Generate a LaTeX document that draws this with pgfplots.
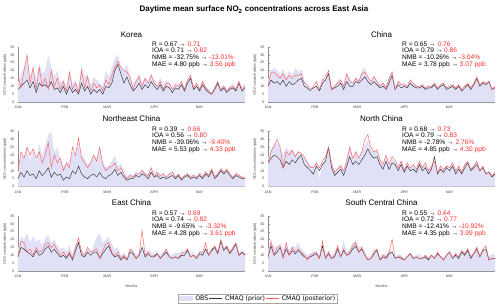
\documentclass[border=0pt]{standalone}
\usepackage{pgfplots}
\usepackage{pgfplotstable}
\pgfplotsset{compat=1.18}
\usepackage{fontspec}
\setmainfont{Liberation Sans}
\newfontfamily\dejavu{DejaVu Sans}
\definecolor{obsfill}{RGB}{224,224,247}
\definecolor{postc}{RGB}{255,95,95}
\definecolor{pric}{RGB}{50,50,50}
\definecolor{statred}{RGB}{255,45,45}
\newcommand\statfont{\fontsize{6.6}{7}\selectfont}
\newcommand\statline[4]{\node[anchor=base west, inner sep=0, font=\statfont] at (#1pt,#2pt) {#3\textcolor{statred}{#4}};}
\newcommand\ptitle[3]{\node[anchor=base, inner sep=0, font=\fontsize{8}{9}\selectfont] at (#1pt,#2pt) {#3};}

\pgfplotstableread{
d o p q
0 12 8 17
2 18 10 9
4 22 12 20
6 28 14 30
8 16 9 12
10 22 13 22
12 14 6 8
14 25 12 22
16 18 10 10
18 20 11 15
20 30 9 8
22 22 13 20
24 16 8 10
26 20 9 15
28 12 6 8
30 14 10 13
32 10 5 7
34 20 10 19
36 12 6 8
38 14 8 12
40 9 5 6
42 24 12 20
44 16 7 9
46 18 10 16
48 10 5 7
50 16 8 12
52 14 6 9
54 12 8 11
56 10 5 7
58 20 10 14
60 16 9 11
62 22 12 17
64 28 20 22
66 30 24 26
68 22 18 22
70 20 12 20
72 24 16 19
74 16 11 16
76 12 7 8
78 14 9 13
80 18 12 16
82 12 8 10
84 16 11 15
86 12 9 12
88 18 13 17
90 14 10 12
92 10 8 10
94 16 11 13
96 10 7 8
98 14 10 12
100 12 9 12
102 8 6 8
104 12 9 11
106 10 8 10
108 13 11 13
110 9 7 8
112 14 12 14
114 18 15 17
116 10 8 9
118 12 10 12
120 9 7 8
122 14 11 13
124 10 8 9
126 8 6 7
128 6 5 5
130 10 8 9
132 14 12 13
134 8 7 8
136 11 9 10
138 8 6 7
140 10 8 9
142 12 9 10
144 9 7 8
146 14 12 13
148 9 7 8
150 12 9 10
}\tabKR

\pgfplotstableread{
d o p q
0 14 10 10
2 20 14 19
4 22 12 19
6 20 13 17
8 18 11 15
10 21 14 18
12 16 10 14
14 20 13 17
16 17 11 15
18 22 12 17
20 19 14 17
22 21 15 18
24 14 10 12
26 9 9 11
28 6 7 8
30 8 9 10
32 12 10 13
34 7 7 8
36 15 12 14
38 14 14 16
40 20 18 20
42 9 8 8
44 11 9 10
46 13 10 12
48 15 12 14
50 10 8 10
52 18 13 18
54 15 10 13
56 12 10 12
58 16 13 15
60 14 12 13
62 20 14 18
64 22 16 19
66 16 13 16
68 13 11 13
70 17 13 16
72 14 11 13
74 11 9 10
76 13 10 12
78 10 8 9
80 16 12 15
82 19 17 19
84 9 8 8
86 13 11 13
88 11 9 11
90 12 10 11
92 10 9 10
94 14 12 14
96 12 10 12
98 11 9 10
100 10 9 10
102 12 10 11
104 9 8 9
106 11 9 10
108 10 9 10
110 12 11 12
112 9 8 9
114 11 10 11
116 13 11 12
118 9 8 9
120 10 9 10
122 12 10 11
124 9 8 9
126 11 10 11
128 8 7 8
130 10 9 10
132 12 11 12
134 9 8 9
136 12 11 12
138 15 15 16
140 11 10 11
142 13 12 13
144 12 11 12
146 13 13 13
148 9 8 8
150 10 9 10
}\tabCN

\pgfplotstableread{
d o p q
0 8 5 10
2 20 9 22
4 18 6 18
6 25 10 25
8 16 7 20
10 24 8 24
12 15 5 18
14 28 10 22
16 20 7 15
18 26 9 20
20 33 12 28
22 35 6 12
24 22 9 20
26 25 7 15
28 18 8 18
30 12 4 10
32 16 6 15
34 15 5 12
36 22 10 25
38 20 8 20
40 28 13 31
42 20 8 18
44 18 6 15
46 14 5 12
48 16 7 15
50 20 8 20
52 18 6 16
54 24 9 25
56 16 6 14
58 12 5 10
60 14 7 12
62 16 8 13
64 20 11 15
66 12 7 10
68 15 9 12
70 9 6 8
72 6 4 5
74 8 5 7
76 7 5 6
78 10 7 8
80 8 6 8
82 11 8 10
84 9 7 8
86 7 5 7
88 12 9 12
90 8 6 6
92 10 7 9
94 7 5 7
96 9 6 8
98 6 5 6
100 8 6 8
102 10 7 9
104 6 5 6
106 8 7 8
108 5 4 5
110 7 6 7
112 9 7 8
114 6 5 6
116 8 6 7
118 6 5 6
120 9 7 8
122 7 5 6
124 10 8 9
126 8 6 7
128 12 10 11
130 7 5 6
132 9 7 8
134 12 10 11
136 10 8 9
138 11 10 11
140 8 7 8
142 6 5 6
144 9 7 8
146 8 6 7
148 6 5 6
150 7 5 5
}\tabNE

\pgfplotstableread{
d o p q
0 18 15 15
2 24 18 22
4 26 20 26
6 28 19 30
8 24 17 25
10 20 12 12
12 25 16 22
14 22 14 20
16 24 17 23
18 20 15 19
20 23 18 22
22 20 20 21
24 18 14 19
26 16 12 15
28 14 10 12
30 12 8 12
32 16 13 15
34 5 10 12
36 14 14 16
38 18 16 19
40 26 25 25
42 14 12 15
44 10 7 9
46 12 9 11
48 14 11 13
50 10 7 10
52 18 13 16
54 26 19 25
56 18 14 18
58 23 16 22
60 18 14 18
62 22 17 22
64 26 20 30
66 30 24 33
68 24 20 25
70 22 18 22
72 24 19 23
74 18 14 17
76 14 11 14
78 20 16 20
80 13 11 14
82 18 15 19
84 16 14 17
86 12 10 12
88 17 14 16
90 11 9 10
92 15 13 15
94 12 10 12
96 14 11 14
98 11 9 11
100 16 14 16
102 12 10 12
104 14 12 15
106 10 8 10
108 13 11 13
110 16 19 16
112 9 8 9
114 13 11 13
116 11 9 11
118 14 12 13
120 12 10 12
122 15 13 15
124 10 8 10
126 13 11 13
128 9 8 9
130 14 12 14
132 16 15 16
134 11 10 11
136 13 12 13
138 15 14 16
140 11 10 10
142 13 12 13
144 9 8 8
146 10 9 9
148 7 6 7
150 9 8 9
}\tabNC

\pgfplotstableread{
d o p q
0 14 9 10
2 22 15 19
4 20 14 18
6 24 12 12
8 18 11 14
10 22 9 10
12 19 13 15
14 20 10 12
16 16 11 13
18 21 14 17
20 23 16 18
22 18 12 15
24 20 14 17
26 16 11 13
28 14 9 10
30 15 10 12
32 12 8 9
34 17 11 12
36 10 7 8
38 16 13 15
40 20 18 21
42 13 10 12
44 11 9 10
46 14 12 15
48 12 10 12
50 16 12 13
52 22 12 14
54 24 8 8
56 18 11 13
58 20 14 17
60 22 16 18
62 17 11 12
64 14 9 10
66 15 10 12
68 10 7 8
70 12 9 10
72 9 7 7
74 14 12 14
76 14 11 12
78 10 8 8
80 12 10 10
82 16 15 26
84 11 9 10
86 14 11 12
88 12 9 9
90 11 9 10
92 13 11 11
94 10 8 8
96 12 10 11
98 14 12 14
100 11 9 9
102 10 8 8
104 12 9 9
106 11 8 8
108 13 10 11
110 12 10 12
112 15 13 14
114 11 9 9
116 12 10 10
118 10 8 8
120 13 11 12
122 12 10 12
124 15 14 18
126 11 10 10
128 14 13 14
130 16 15 16
132 12 11 12
134 20 19 20
136 14 13 14
138 16 15 16
140 12 11 12
142 15 14 15
144 18 17 18
146 11 10 10
148 14 12 11
150 12 10 11
}\tabEC

\pgfplotstableread{
d o p q
0 14 9 8
2 18 16 19
4 16 10 10
6 15 12 15
8 18 15 16
10 14 9 8
12 17 14 18
14 13 10 10
16 16 13 15
18 15 11 12
20 18 13 14
22 14 11 12
24 12 9 10
26 10 8 7
28 11 9 10
30 13 10 11
32 12 11 12
34 10 8 8
36 16 16 19
38 11 8 8
40 13 11 12
42 10 8 8
44 12 9 10
46 16 14 16
48 11 9 9
50 20 13 14
52 12 10 10
54 14 11 12
56 18 14 16
58 20 16 18
60 15 12 12
62 16 14 15
64 12 10 10
66 9 7 7
68 10 8 8
70 13 11 12
72 14 13 14
74 9 7 7
76 11 9 10
78 10 8 9
80 13 11 12
82 13 12 20
84 9 8 8
86 11 9 9
88 10 8 9
90 8 7 7
92 10 9 9
94 12 11 11
96 9 8 8
98 10 9 9
100 11 8 8
102 9 8 8
104 10 9 10
106 8 7 8
108 11 10 10
110 9 8 8
112 12 11 12
114 10 9 9
116 8 7 7
118 11 10 10
120 13 12 12
122 9 8 8
124 12 10 11
126 10 8 9
128 14 12 13
130 12 10 11
132 15 13 14
134 10 8 9
136 12 11 11
138 16 14 15
140 11 9 9
142 14 13 14
144 13 14 16
146 9 7 7
148 11 8 8
150 10 8 8
}\tabSC

\pgfplotsset{
  panel/.style={
    scale only axis, width=227pt, height=55pt,
    xmin=0, xmax=150, ymin=0, ymax=35,
    axis lines*=left,
    axis line style={black!45, line width=0.4pt},
    xtick={0,31,59,90,120},
    xticklabels={JAN,FEB,MAR,APR,MAY},
    ytick={0,5,...,35},
    tick style={black!45, line width=0.3pt},
    major tick length=1.5pt,
    tick label style={font=\fontsize{3.6}{4}\selectfont, text=black!75},
    /pgf/number format/assume math mode=true,
    ylabel={NO2 concentrations (ppb)},
    ylabel style={font=\fontsize{3.6}{4}\selectfont, text=black!75, yshift=-3pt},
    xlabel style={font=\fontsize{3.6}{4}\selectfont, text=black!75},
    xticklabel style={yshift=-0.5pt},
    anchor=south west,
  },
  obs/.style={fill=obsfill, draw=none,
    legend image code/.code={\fill[obsfill] (0pt,-2.8pt) rectangle (14pt,2.8pt);}},
  pri/.style={pric, line width=0.45pt,
    legend image code/.code={\draw[pric, line width=0.5pt] (0pt,0pt) -- (13pt,0pt);}},
  post/.style={postc, line width=0.45pt,
    legend image code/.code={\draw[postc, line width=0.5pt] (0pt,0pt) -- (13pt,0pt);}},
}

\newcommand\panel[1]{%
  \addplot[obs] table[x=d,y=o]{#1} \closedcycle;
  \addplot[pri] table[x=d,y=p]{#1};
  \addplot[post] table[x=d,y=q]{#1};
}

\begin{document}
\begin{tikzpicture}
\path[use as bounding box] (0,0) rectangle (500pt,306pt);

\node[anchor=base, inner sep=0, font=\bfseries\fontsize{8}{9}\selectfont] at (254pt,294pt) {Daytime mean surface NO\textsubscript{2} concentrations across East Asia};

% Top row
\begin{axis}[panel, at={(18pt,204pt)}]
\panel{\tabKR}
\end{axis}
\begin{axis}[panel, at={(268pt,204pt)}]
\panel{\tabCN}
\end{axis}
% Middle row
\begin{axis}[panel, at={(18pt,119.5pt)}]
\panel{\tabNE}
\end{axis}
\begin{axis}[panel, at={(268pt,119.5pt)}]
\panel{\tabNC}
\end{axis}
% Bottom row
\begin{axis}[panel, at={(18pt,35pt)}, xlabel={Months},
  legend columns=3,
  legend style={at={(axis description cs:1.055,-0.50)}, anchor=center,
    font=\dejavu\fontsize{6.2}{6.5}\selectfont, draw=black!35, line width=0.4pt,
    inner xsep=1pt, inner ysep=0.5pt,
    nodes={inner sep=0.9pt},
    /tikz/every odd column/.append style={column sep=1.5pt}},
  ]
\panel{\tabEC}
\legend{OBS, CMAQ (prior), CMAQ (posterior)}
\end{axis}
\begin{axis}[panel, at={(268pt,35pt)}, xlabel={Months}]
\panel{\tabSC}
\end{axis}

% panel titles
\ptitle{131.5}{268.7}{Korea}
\ptitle{381.5}{268.7}{China}
\ptitle{131.5}{184.3}{Northeast China}
\ptitle{381.5}{184.3}{North China}
\ptitle{131.5}{100.3}{East China}
\ptitle{381.5}{100.3}{South Central China}

% stats
\statline{152}{260}{R = 0.67 → }{0.71}
\statline{152}{253.3}{IOA = 0.71 → }{0.82}
\statline{152}{246.7}{NMB = -32.75\% → }{-13.01\%}
\statline{152}{240}{MAE = 4.80 ppb → }{3.56 ppb}

\statline{402}{260}{R = 0.65 → }{0.76}
\statline{402}{253.3}{IOA = 0.79 → }{0.86}
\statline{402}{246.7}{NMB = -10.26\% → }{-3.04\%}
\statline{402}{240}{MAE = 3.78 ppb → }{3.07 ppb}

\statline{152}{175}{R = 0.39 → }{0.66}
\statline{152}{168.3}{IOA = 0.56 → }{0.80}
\statline{152}{161.7}{NMB = -39.06\% → }{-9.40\%}
\statline{152}{155}{MAE = 5.53 ppb → }{4.33 ppb}

\statline{402}{175}{R = 0.68 → }{0.73}
\statline{402}{168.3}{IOA = 0.79 → }{0.83}
\statline{402}{161.7}{NMB = -2.78\% → }{2.76\%}
\statline{402}{155}{MAE = 4.85 ppb → }{4.30 ppb}

\statline{152}{91}{R = 0.57 → }{0.69}
\statline{152}{84.3}{IOA = 0.74 → }{0.82}
\statline{152}{77.7}{NMB = -9.65\% → }{-3.32\%}
\statline{152}{71}{MAE = 4.28 ppb → }{3.61 ppb}

\statline{402}{91}{R = 0.55 → }{0.64}
\statline{402}{84.3}{IOA = 0.72 → }{0.77}
\statline{402}{77.7}{NMB = -12.41\% → }{-10.92\%}
\statline{402}{71}{MAE = 4.35 ppb → }{3.99 ppb}
\end{tikzpicture}
\end{document}
